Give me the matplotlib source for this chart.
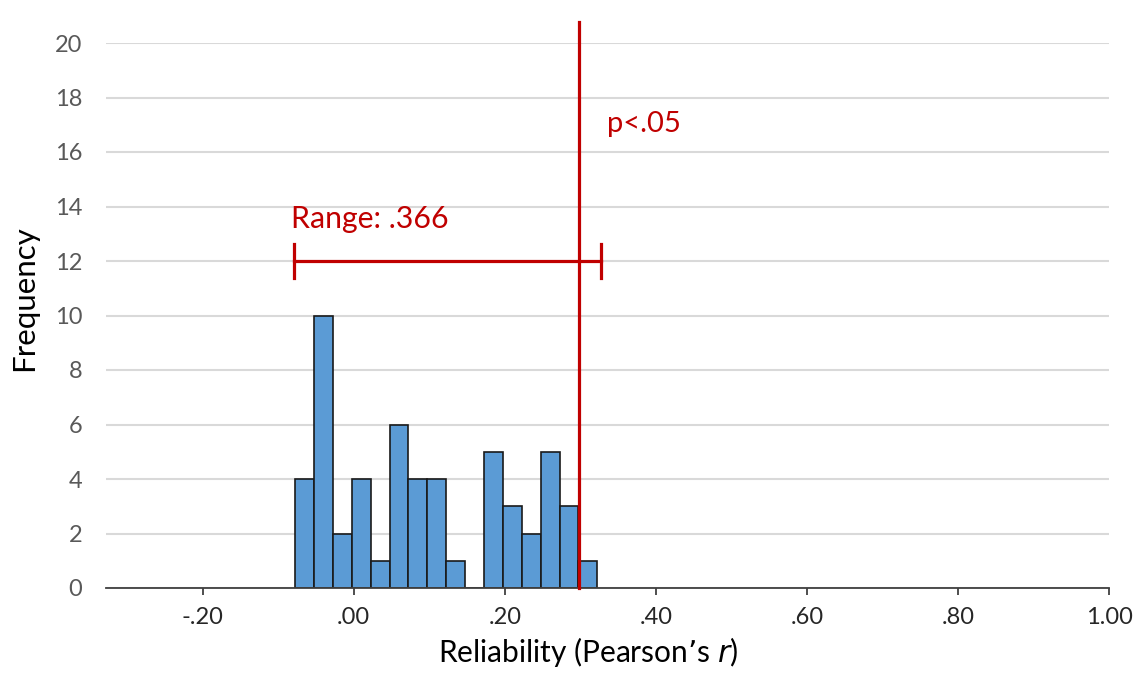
import matplotlib
matplotlib.use("Agg")
import matplotlib.pyplot as plt
import numpy as np

plt.rcParams['font.family'] = ['Lato', 'DejaVu Sans']

# histogram bins (centre of each bin) and counts
bin_centres = [-0.065, -0.040, -0.015, 0.010, 0.035, 0.060, 0.085, 0.110,
               0.135, 0.160, 0.185, 0.210, 0.235, 0.260, 0.285, 0.310]
counts = [4, 10, 2, 4, 1, 6, 4, 4, 1, 0, 5, 3, 2, 5, 3, 1]
bin_width = 0.025

x_ticks = [-0.2, 0.0, 0.2, 0.4, 0.6, 0.8, 1.0]
x_ticklabels = ['-.20', '.00', '.20', '.40', '.60', '.80', '1.00']
y_ticks = list(range(0, 21, 2))

p05_r = 0.298
range_lo, range_hi = -0.079, 0.327
range_y = 12

bar_color = '#5B9BD5'
red = '#C00000'
grid_color = '#D9D9D9'

fig = plt.figure(figsize=(11.37, 6.78), dpi=100)
ax = fig.add_axes([106/1137, 1 - 588/678, (1109 - 106)/1137, (588 - 43)/678])

ax.bar(bin_centres, counts, width=bin_width, color=bar_color,
       edgecolor='#1a1a1a', linewidth=1.2, zorder=3)

ax.set_xlim(-0.328, 1.0)
ax.set_ylim(0, 20)
ax.set_xticks(x_ticks)
ax.set_xticklabels(x_ticklabels)
ax.set_yticks(y_ticks)

ax.grid(axis='y', color=grid_color, linewidth=1.5, zorder=0)
ax.set_axisbelow(True)
for s in ['top', 'right', 'left']:
    ax.spines[s].set_visible(False)
ax.spines['bottom'].set_color('#404040')
ax.spines['bottom'].set_linewidth(1.3)
ax.spines['bottom'].set_zorder(4)

ax.tick_params(axis='y', length=0, pad=17, labelsize=17, labelcolor='#595959')
ax.tick_params(axis='x', length=5, width=1.3, color='#404040', pad=9,
               labelsize=17, labelcolor='#262626')

# axis titles placed like the original (slightly off-centre)
fig.text(588/1137, 1 - 662/678, "Reliability (Pearson\u2019s $\\it{r}$)",
         fontsize=21.5, ha='center', va='baseline')
fig.text(24/1137, 1 - 298/678, "Frequency", fontsize=22.5, rotation=90,
         ha='center', va='center')

# p<.05 threshold line
ax.plot([p05_r, p05_r], [0, 20.78], color=red, linewidth=2.3, clip_on=False, zorder=5)
ax.text(0.335, 16.72, "p<.05", color=red, fontsize=21, va='baseline', ha='left')

# range bar
ax.plot([range_lo, range_hi], [range_y, range_y], color=red, linewidth=2.3, zorder=5)
ax.plot([range_lo, range_lo], [range_y - 0.62, range_y + 0.62], color=red, linewidth=2.3, zorder=5)
ax.plot([range_hi, range_hi], [range_y - 0.62, range_y + 0.62], color=red, linewidth=2.3, zorder=5)
ax.text(-0.083, 13.2, "Range: .366", color=red, fontsize=21.8, va='baseline', ha='left')

fig.savefig("out.png", dpi=100)
